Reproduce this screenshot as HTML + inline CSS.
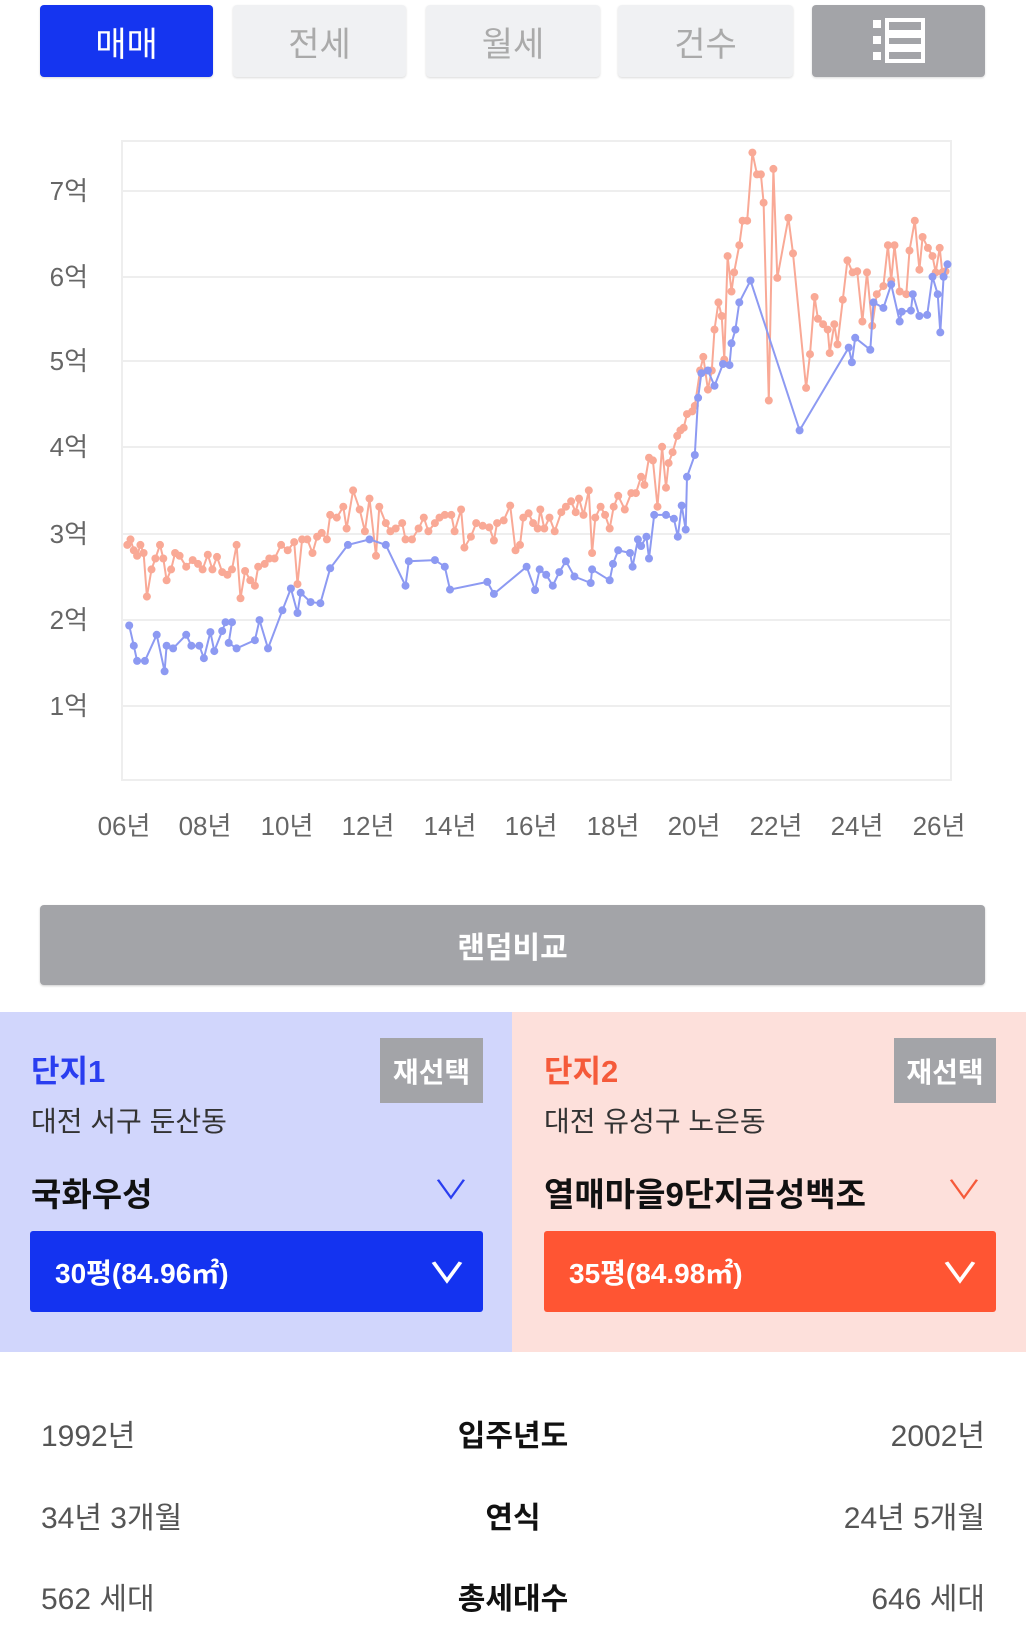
<!DOCTYPE html>
<html><head><meta charset="utf-8">
<style>
body{margin:0;width:1026px;height:1628px;background:#fff;font-family:"Liberation Sans","Noto Sans CJK KR",sans-serif;position:relative;overflow:hidden}
.a{position:absolute}
.tab{position:absolute;top:5px;height:72px;border-radius:4px;background:#f0f1f3;color:#aaa;font-size:34px;display:flex;align-items:center;justify-content:center;box-shadow:0 1px 2px rgba(0,0,0,.15)}
.row{position:absolute;left:41px;right:41px;font-size:30px;color:#555;display:flex;justify-content:space-between;align-items:center}
.row b{color:#111;position:absolute;left:0;right:0;text-align:center}
</style></head><body>
<div class="tab" style="left:40px;width:173px;background:#1535f0;color:#fff">매매</div>
<div class="tab" style="left:233px;width:173px">전세</div>
<div class="tab" style="left:426px;width:174px">월세</div>
<div class="tab" style="left:618px;width:175px">건수</div>
<div class="tab" style="left:812px;width:173px;background:#a3a4a8">
<svg width="56" height="46" viewBox="0 0 56 46"><g fill="#fff"><rect x="2" y="2" width="8" height="8"/><rect x="2" y="18" width="8" height="8"/><rect x="2" y="34" width="8" height="8"/></g><g fill="none" stroke="#fff" stroke-width="4"><rect x="16" y="2" width="36" height="12"/><rect x="16" y="18" width="36" height="10"/><rect x="16" y="32" width="36" height="11"/></g></svg></div>

<svg class="a" style="left:0;top:0" width="1026" height="860" id="ch">
<rect x="122" y="141" width="829" height="639" fill="none" stroke="#eee" stroke-width="2"/>
<g stroke="#eee" stroke-width="2">
<line x1="122" x2="951" y1="191" y2="191"/><line x1="122" x2="951" y1="277" y2="277"/><line x1="122" x2="951" y1="361" y2="361"/><line x1="122" x2="951" y1="447" y2="447"/><line x1="122" x2="951" y1="534" y2="534"/><line x1="122" x2="951" y1="620" y2="620"/><line x1="122" x2="951" y1="706" y2="706"/>
</g>
<g font-size="26" fill="#666" text-anchor="end" font-family="Liberation Sans,Noto Sans CJK KR,sans-serif">
<text x="88" y="200">7억</text><text x="88" y="286">6억</text><text x="88" y="370">5억</text><text x="88" y="456">4억</text><text x="88" y="543">3억</text><text x="88" y="629">2억</text><text x="88" y="715">1억</text>
</g>
<g font-size="26" fill="#666" text-anchor="middle" font-family="Liberation Sans,Noto Sans CJK KR,sans-serif">
<text x="124" y="835">06년</text><text x="205" y="835">08년</text><text x="287" y="835">10년</text><text x="368" y="835">12년</text><text x="450" y="835">14년</text><text x="531" y="835">16년</text><text x="613" y="835">18년</text><text x="694" y="835">20년</text><text x="776" y="835">22년</text><text x="857" y="835">24년</text><text x="939" y="835">26년</text>
</g>
</svg>
<script>
var B=[198,1148,205,1185,210,1213,222,1213,240,1165,252,1232,255,1185,265,1190,285,1165,293,1185,305,1185,312,1208,322,1160,328,1195,340,1158,345,1142,355,1142,350,1180,362,1190,390,1175,397,1138,410,1190,432,1120,445,1080,455,1125,460,1088,475,1105,490,1107,505,1043,532,1000,565,990,590,1000,620,1075,625,1030,665,1028,680,1040,688,1082,745,1068,755,1090,805,1040,818,1083,825,1045,835,1055,845,1075,855,1050,865,1030,878,1058,903,1070,905,1045,932,1065,937,1035,945,1010,963,1015,967,1040,975,990,980,1002,988,985,992,1025,1000,945,1018,945,1030,952,1036,985,1042,928,1048,972,1050,875,1062,835,1067,730,1072,685,1082,680,1092,708,1105,668,1115,670,1118,630,1124,605,1130,555,1147,515,1222,790,1297,638,1302,665,1307,620,1330,642,1335,555,1350,565,1362,522,1375,590,1378,572,1392,570,1395,540,1405,580,1417,578,1425,508,1433,540,1437,610,1442,508,1448,485];
var R=[195,1000,200,990,205,1010,210,1020,215,1000,220,1015,225,1095,232,1045,238,1025,245,1000,250,1025,255,1065,262,1045,268,1015,275,1020,285,1040,295,1028,303,1035,310,1045,318,1018,325,1045,332,1022,340,1050,348,1055,355,1045,362,1000,368,1098,375,1048,383,1065,390,1075,395,1040,405,1035,412,1025,420,1025,430,1000,440,1010,450,995,455,1072,462,990,470,990,478,1015,485,985,492,978,500,990,505,945,515,950,525,930,530,970,540,900,550,935,558,975,565,915,575,1020,580,930,590,960,597,975,605,970,615,960,620,990,630,990,640,970,648,950,655,975,665,960,672,950,680,945,690,945,695,975,705,935,710,1005,720,985,728,960,738,965,748,968,755,992,760,960,770,955,780,928,788,1010,795,1000,800,950,808,942,815,960,822,970,826,935,832,970,840,950,848,975,858,940,865,930,873,920,880,940,885,915,892,945,900,900,905,1015,910,950,918,930,925,945,932,970,938,930,945,910,955,935,965,905,972,905,980,875,985,890,992,840,998,845,1005,930,1012,820,1018,895,1022,850,1028,830,1035,800,1040,790,1045,785,1050,760,1058,755,1062,745,1070,680,1075,655,1082,715,1088,680,1092,605,1098,555,1103,580,1107,660,1112,470,1118,535,1122,500,1130,450,1135,405,1142,405,1150,280,1157,320,1163,320,1167,372,1175,735,1182,310,1188,510,1205,400,1212,465,1232,712,1238,650,1245,545,1250,585,1258,595,1265,605,1268,648,1275,595,1280,632,1288,550,1295,478,1303,500,1310,498,1318,590,1325,500,1333,598,1340,540,1350,525,1357,450,1362,515,1367,450,1375,535,1385,540,1390,460,1398,405,1405,495,1410,435,1418,455,1425,470,1430,500,1436,455,1440,500,1445,498];
function draw(a,c){var s=document.getElementById('ch'),ns='http://www.w3.org/2000/svg',p=[],g='';
for(var i=0;i<a.length;i+=2){var x=(124+(a[i]-190)*815/1245).toFixed(1),y=(a[i+1]*850/1560).toFixed(1);p.push(x+','+y);g+='<circle cx="'+x+'" cy="'+y+'" r="4"/>';}
var e=document.createElementNS(ns,'g');e.innerHTML='<polyline points="'+p.join(' ')+'" fill="none" stroke="'+c+'" stroke-width="2"/><g fill="'+c+'">'+g+'</g>';s.appendChild(e);}
draw(R,'#f9a996');draw(B,'#8d9af2');
</script>

<div class="a" style="left:40px;top:905px;width:945px;height:80px;background:#a3a4a8;border-radius:4px;color:#fff;font-size:30px;font-weight:bold;display:flex;align-items:center;justify-content:center;box-shadow:0 1px 2px rgba(0,0,0,.2)">랜덤비교</div>

<div class="a" style="left:0;top:1012px;width:512px;height:340px;background:#d1d6fc"></div>
<div class="a" style="left:512px;top:1012px;width:514px;height:340px;background:#fde0db"></div>

<div class="a" style="left:31px;top:1046px;font-size:31px;font-weight:bold;color:#2a3ef0">단지1</div>
<div class="a" style="left:380px;top:1038px;width:103px;height:65px;background:#a3a4a8;color:#fff;font-weight:bold;font-size:28px;display:flex;align-items:center;justify-content:center">재선택</div>
<div class="a" style="left:31px;top:1100px;font-size:28px;color:#333">대전 서구 둔산동</div>
<div class="a" style="left:31px;top:1168px;font-size:33px;font-weight:bold;color:#111">국화우성</div>
<div class="a" style="left:438px;top:1170px;font-size:26px;color:#2a3ef0;transform:scaleX(1.4)">∨</div>
<div class="a" style="left:30px;top:1231px;width:453px;height:81px;background:#1433f0;border-radius:3px;color:#fff;font-weight:bold;font-size:28px;display:flex;align-items:center;padding-left:25px;box-sizing:border-box">30평(84.96㎡)<span style="position:absolute;right:22px;transform:scaleX(1.4)">∨</span></div>

<div class="a" style="left:544px;top:1046px;font-size:31px;font-weight:bold;color:#f55a3a">단지2</div>
<div class="a" style="left:894px;top:1038px;width:102px;height:65px;background:#a3a4a8;color:#fff;font-weight:bold;font-size:28px;display:flex;align-items:center;justify-content:center">재선택</div>
<div class="a" style="left:544px;top:1100px;font-size:28px;color:#333">대전 유성구 노은동</div>
<div class="a" style="left:544px;top:1168px;font-size:33px;font-weight:bold;color:#111">열매마을9단지금성백조</div>
<div class="a" style="left:951px;top:1170px;font-size:26px;color:#f55a3a;transform:scaleX(1.4)">∨</div>
<div class="a" style="left:544px;top:1231px;width:452px;height:81px;background:#ff5533;border-radius:3px;color:#fff;font-weight:bold;font-size:28px;display:flex;align-items:center;padding-left:25px;box-sizing:border-box">35평(84.98㎡)<span style="position:absolute;right:22px;transform:scaleX(1.4)">∨</span></div>

<div class="row" style="top:1412px;height:42px"><span>1992년</span><b>입주년도</b><span>2002년</span></div>
<div class="row" style="top:1494px;height:42px"><span>34년 3개월</span><b>연식</b><span>24년 5개월</span></div>
<div class="row" style="top:1575px;height:42px"><span>562 세대</span><b>총세대수</b><span>646 세대</span></div>
</body></html>
